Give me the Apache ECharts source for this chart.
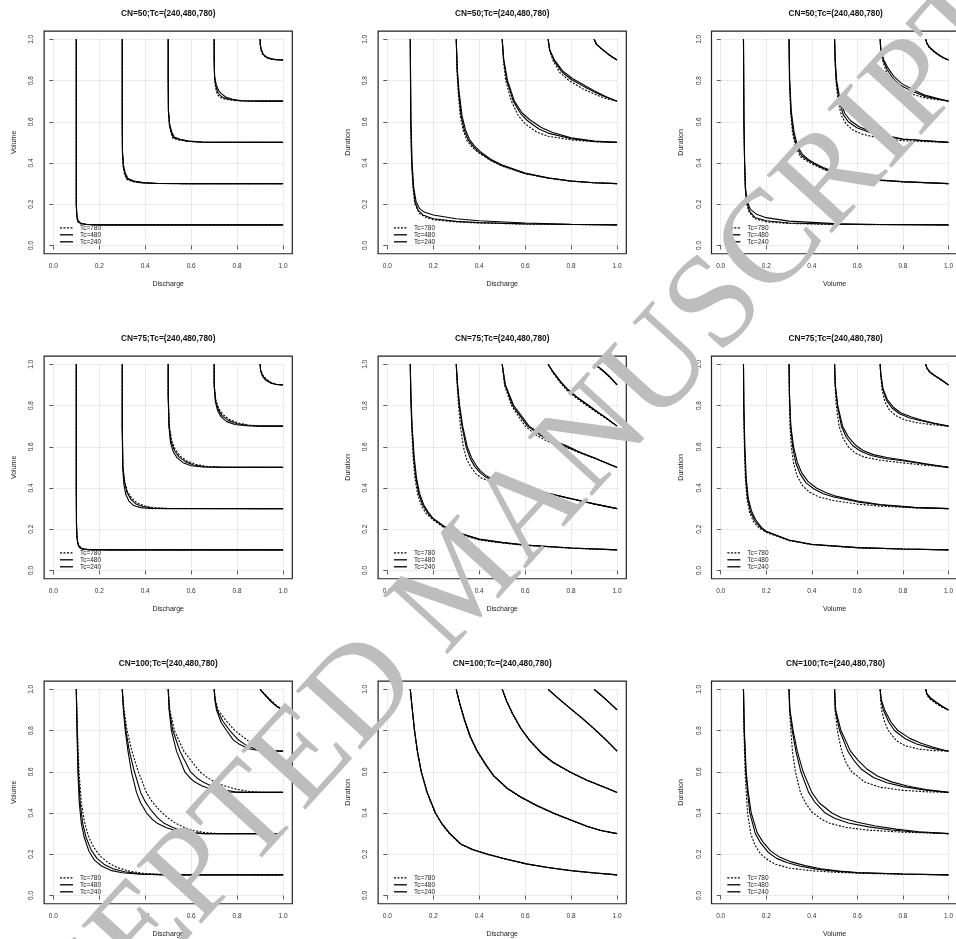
<!DOCTYPE html>
<html><head><meta charset="utf-8">
<script src="https://cdn.jsdelivr.net/npm/echarts@6/dist/echarts.min.js"></script>
<style>html,body{margin:0;padding:0;background:#fff}#c{width:956px;height:939px}</style>
</head><body><div id="c"></div>
<script>
const tcNames = ['Tc=780','Tc=480','Tc=240'];
const tickLabels = ['0.0','0.2','0.4','0.6','0.8','1.0'];
const titleText = {50:'CN=50;Tc=(240,480,780)', 75:'CN=75;Tc=(240,480,780)', 100:'CN=100;Tc=(240,480,780)'};

// ---------- CN=50 ----------
const p50_QV_780 = [
 [[0.1,1],[0.1,0.3],[0.1,0.2],[0.102,0.14],[0.106,0.117],[0.115,0.106],[0.14,0.102],[0.2,0.1],[1,0.1]],
 [[0.3,1],[0.3,0.6],[0.301,0.45],[0.304,0.38],[0.31,0.345],[0.32,0.32],[0.345,0.31],[0.38,0.304],[0.45,0.301],[0.6,0.3],[1,0.3]],
 [[0.5,1],[0.5,0.8],[0.501,0.65],[0.505,0.58],[0.512,0.545],[0.52,0.52],[0.545,0.512],[0.58,0.505],[0.65,0.501],[0.8,0.5],[1,0.5]],
 [[0.7,1],[0.7,0.9],[0.702,0.8],[0.707,0.76],[0.713,0.735],[0.722,0.722],[0.735,0.713],[0.76,0.707],[0.8,0.702],[0.9,0.7],[1,0.7]],
 [[0.9,1],[0.901,0.97],[0.905,0.945],[0.911,0.927],[0.918,0.918],[0.927,0.911],[0.945,0.905],[0.97,0.901],[1,0.9]]
];
const p50_QV_480 = [
 [[0.1,1],[0.1,0.3],[0.1,0.2],[0.102,0.142],[0.107,0.118],[0.117,0.107],[0.142,0.102],[0.2,0.1],[1,0.1]],
 [[0.3,1],[0.3,0.6],[0.301,0.45],[0.305,0.385],[0.311,0.348],[0.322,0.322],[0.348,0.311],[0.385,0.305],[0.45,0.301],[0.6,0.3],[1,0.3]],
 [[0.5,1],[0.5,0.8],[0.501,0.65],[0.506,0.585],[0.514,0.548],[0.523,0.523],[0.548,0.514],[0.585,0.506],[0.65,0.501],[0.8,0.5],[1,0.5]],
 [[0.7,1],[0.7,0.9],[0.702,0.81],[0.708,0.77],[0.716,0.742],[0.727,0.727],[0.742,0.716],[0.77,0.708],[0.81,0.702],[0.9,0.7],[1,0.7]],
 [[0.9,1],[0.901,0.97],[0.905,0.946],[0.912,0.928],[0.919,0.919],[0.928,0.912],[0.946,0.905],[0.97,0.901],[1,0.9]]
];
const p50_QV_240 = [
 [[0.1,1],[0.1,0.3],[0.1,0.2],[0.103,0.145],[0.108,0.12],[0.12,0.108],[0.145,0.103],[0.2,0.1],[1,0.1]],
 [[0.3,1],[0.3,0.6],[0.301,0.46],[0.305,0.39],[0.313,0.352],[0.325,0.325],[0.352,0.313],[0.39,0.305],[0.46,0.301],[0.6,0.3],[1,0.3]],
 [[0.5,1],[0.5,0.8],[0.501,0.66],[0.506,0.59],[0.515,0.552],[0.526,0.526],[0.552,0.515],[0.59,0.506],[0.66,0.501],[0.8,0.5],[1,0.5]],
 [[0.7,1],[0.7,0.9],[0.702,0.82],[0.709,0.78],[0.72,0.75],[0.734,0.734],[0.75,0.72],[0.78,0.709],[0.82,0.702],[0.9,0.7],[1,0.7]],
 [[0.9,1],[0.901,0.97],[0.906,0.948],[0.913,0.93],[0.92,0.92],[0.93,0.913],[0.948,0.906],[0.97,0.901],[1,0.9]]
];
const p50_QD_780 = [
 [[0.1,1],[0.102,0.6],[0.106,0.4],[0.112,0.28],[0.12,0.2],[0.14,0.155],[0.17,0.135],[0.2,0.125],[0.3,0.114],[0.4,0.109],[0.6,0.104],[0.8,0.102],[1,0.1]],
 [[0.3,1],[0.303,0.85],[0.308,0.75],[0.317,0.63],[0.33,0.56],[0.346,0.51],[0.37,0.475],[0.4,0.448],[0.45,0.412],[0.5,0.385],[0.6,0.348],[0.7,0.326],[0.8,0.312],[0.9,0.304],[1,0.3]],
 [[0.5,1],[0.505,0.9],[0.515,0.8],[0.54,0.7],[0.57,0.63],[0.6,0.59],[0.65,0.55],[0.7,0.53],[0.8,0.512],[0.9,0.503],[1,0.5]],
 [[0.7,1],[0.705,0.95],[0.72,0.9],[0.75,0.84],[0.79,0.8],[0.85,0.76],[0.9,0.735],[0.95,0.713],[1,0.7]],
 [[0.9,1],[0.91,0.975],[0.93,0.955],[0.96,0.928],[0.98,0.912],[1,0.9]]
];
const p50_QD_480 = [
 [[0.1,1],[0.102,0.6],[0.106,0.4],[0.113,0.28],[0.121,0.21],[0.135,0.17],[0.155,0.148],[0.2,0.13],[0.3,0.117],[0.4,0.111],[0.6,0.105],[0.8,0.102],[1,0.1]],
 [[0.3,1],[0.304,0.85],[0.31,0.75],[0.321,0.63],[0.335,0.56],[0.352,0.512],[0.375,0.478],[0.4,0.452],[0.45,0.414],[0.5,0.387],[0.6,0.349],[0.7,0.327],[0.8,0.312],[0.9,0.304],[1,0.3]],
 [[0.5,1],[0.506,0.9],[0.52,0.8],[0.548,0.7],[0.58,0.64],[0.61,0.605],[0.66,0.565],[0.7,0.545],[0.8,0.518],[0.9,0.505],[1,0.5]],
 [[0.7,1],[0.706,0.95],[0.724,0.9],[0.757,0.845],[0.8,0.805],[0.86,0.768],[0.9,0.745],[0.95,0.72],[1,0.7]],
 [[0.9,1],[0.91,0.976],[0.93,0.956],[0.96,0.929],[0.98,0.913],[1,0.9]]
];
const p50_QD_240 = [
 [[0.1,1],[0.103,0.6],[0.108,0.4],[0.115,0.28],[0.125,0.215],[0.14,0.18],[0.16,0.162],[0.2,0.148],[0.3,0.13],[0.4,0.12],[0.6,0.109],[0.8,0.103],[1,0.1]],
 [[0.3,1],[0.305,0.85],[0.312,0.75],[0.325,0.63],[0.34,0.562],[0.357,0.515],[0.38,0.482],[0.405,0.455],[0.45,0.418],[0.5,0.39],[0.6,0.351],[0.7,0.328],[0.8,0.313],[0.9,0.304],[1,0.3]],
 [[0.5,1],[0.507,0.9],[0.523,0.8],[0.553,0.7],[0.585,0.645],[0.62,0.61],[0.67,0.572],[0.72,0.548],[0.8,0.522],[0.9,0.506],[1,0.5]],
 [[0.7,1],[0.707,0.95],[0.727,0.9],[0.762,0.848],[0.805,0.81],[0.865,0.772],[0.9,0.75],[0.95,0.723],[1,0.7]],
 [[0.9,1],[0.91,0.977],[0.93,0.957],[0.96,0.93],[0.98,0.914],[1,0.9]]
];
const p50_VD_780 = [
 [[0.1,1],[0.102,0.6],[0.105,0.4],[0.108,0.28],[0.112,0.21],[0.125,0.16],[0.15,0.13],[0.2,0.115],[0.3,0.107],[0.5,0.102],[1,0.1]],
 [[0.3,1],[0.302,0.8],[0.307,0.65],[0.315,0.55],[0.328,0.48],[0.35,0.43],[0.375,0.412],[0.4,0.396],[0.45,0.37],[0.5,0.35],[0.6,0.328],[0.7,0.315],[0.8,0.308],[1,0.3]],
 [[0.5,1],[0.502,0.9],[0.506,0.8],[0.515,0.7],[0.53,0.63],[0.55,0.59],[0.58,0.56],[0.62,0.54],[0.7,0.52],[0.8,0.508],[1,0.5]],
 [[0.7,1],[0.702,0.95],[0.71,0.9],[0.725,0.85],[0.74,0.81],[0.77,0.77],[0.82,0.74],[0.9,0.715],[1,0.7]],
 [[0.9,1],[0.905,0.98],[0.915,0.96],[0.935,0.94],[0.96,0.92],[0.98,0.908],[1,0.9]]
];
const p50_VD_480 = [
 [[0.1,1],[0.102,0.6],[0.105,0.4],[0.108,0.28],[0.113,0.215],[0.127,0.165],[0.15,0.136],[0.2,0.12],[0.3,0.109],[0.5,0.103],[1,0.1]],
 [[0.3,1],[0.302,0.8],[0.308,0.65],[0.318,0.55],[0.333,0.48],[0.355,0.435],[0.38,0.415],[0.4,0.402],[0.45,0.373],[0.5,0.353],[0.6,0.33],[0.7,0.317],[0.8,0.309],[1,0.3]],
 [[0.5,1],[0.502,0.9],[0.507,0.8],[0.52,0.7],[0.538,0.635],[0.56,0.6],[0.6,0.57],[0.65,0.55],[0.7,0.535],[0.8,0.515],[1,0.5]],
 [[0.7,1],[0.703,0.95],[0.713,0.9],[0.73,0.855],[0.753,0.815],[0.785,0.78],[0.835,0.75],[0.9,0.722],[1,0.7]],
 [[0.9,1],[0.905,0.981],[0.916,0.961],[0.936,0.941],[0.961,0.921],[0.981,0.908],[1,0.9]]
];
const p50_VD_240 = [
 [[0.1,1],[0.102,0.6],[0.105,0.4],[0.109,0.28],[0.115,0.22],[0.13,0.175],[0.16,0.15],[0.2,0.135],[0.3,0.118],[0.5,0.106],[0.7,0.102],[1,0.1]],
 [[0.3,1],[0.303,0.8],[0.31,0.65],[0.322,0.55],[0.338,0.48],[0.36,0.44],[0.385,0.417],[0.41,0.4],[0.45,0.378],[0.5,0.357],[0.6,0.333],[0.7,0.318],[0.8,0.31],[1,0.3]],
 [[0.5,1],[0.503,0.9],[0.509,0.8],[0.525,0.7],[0.545,0.64],[0.57,0.605],[0.61,0.575],[0.66,0.553],[0.72,0.534],[0.8,0.516],[1,0.5]],
 [[0.7,1],[0.703,0.95],[0.716,0.9],[0.735,0.86],[0.76,0.82],[0.795,0.785],[0.845,0.755],[0.9,0.728],[1,0.7]],
 [[0.9,1],[0.905,0.982],[0.917,0.962],[0.937,0.942],[0.962,0.922],[0.982,0.909],[1,0.9]]
];

// ---------- CN=75 ----------
const p75_QV_780 = [
 [[0.1,1],[0.1,0.4],[0.101,0.22],[0.103,0.165],[0.107,0.135],[0.115,0.116],[0.13,0.106],[0.16,0.101],[0.25,0.1],[1,0.1]],
 [[0.3,1],[0.3,0.7],[0.303,0.5],[0.311,0.43],[0.322,0.385],[0.342,0.35],[0.365,0.327],[0.4,0.312],[0.44,0.304],[0.5,0.301],[1,0.3]],
 [[0.5,1],[0.5,0.85],[0.505,0.7],[0.515,0.63],[0.53,0.588],[0.552,0.555],[0.58,0.532],[0.62,0.515],[0.67,0.504],[0.75,0.5],[1,0.5]],
 [[0.7,1],[0.7,0.9],[0.707,0.83],[0.72,0.785],[0.74,0.755],[0.768,0.732],[0.805,0.715],[0.86,0.704],[0.92,0.7],[1,0.7]],
 [[0.9,1],[0.902,0.974],[0.911,0.949],[0.926,0.929],[0.949,0.911],[0.974,0.902],[1,0.9]]
];
const p75_QV_480 = [
 [[0.1,1],[0.1,0.4],[0.101,0.22],[0.103,0.162],[0.107,0.132],[0.114,0.114],[0.127,0.105],[0.155,0.101],[0.25,0.1],[1,0.1]],
 [[0.3,1],[0.3,0.7],[0.303,0.5],[0.31,0.43],[0.32,0.38],[0.338,0.345],[0.36,0.322],[0.39,0.31],[0.43,0.303],[0.5,0.301],[1,0.3]],
 [[0.5,1],[0.5,0.85],[0.504,0.7],[0.513,0.625],[0.527,0.582],[0.548,0.55],[0.575,0.528],[0.61,0.512],[0.66,0.503],[0.75,0.5],[1,0.5]],
 [[0.7,1],[0.7,0.9],[0.706,0.825],[0.718,0.78],[0.735,0.75],[0.762,0.728],[0.8,0.712],[0.85,0.703],[0.9,0.7],[1,0.7]],
 [[0.9,1],[0.902,0.972],[0.91,0.947],[0.924,0.927],[0.947,0.91],[0.972,0.902],[1,0.9]]
];
const p75_QV_240 = [
 [[0.1,1],[0.1,0.4],[0.101,0.22],[0.103,0.16],[0.106,0.13],[0.113,0.112],[0.125,0.104],[0.15,0.101],[0.25,0.1],[1,0.1]],
 [[0.3,1],[0.3,0.7],[0.302,0.5],[0.307,0.42],[0.315,0.37],[0.33,0.335],[0.35,0.315],[0.38,0.305],[0.42,0.301],[0.5,0.3],[1,0.3]],
 [[0.5,1],[0.5,0.85],[0.503,0.7],[0.51,0.62],[0.522,0.575],[0.54,0.545],[0.565,0.523],[0.6,0.508],[0.65,0.502],[0.75,0.5],[1,0.5]],
 [[0.7,1],[0.7,0.9],[0.705,0.82],[0.715,0.775],[0.73,0.745],[0.755,0.722],[0.79,0.708],[0.84,0.702],[0.9,0.7],[1,0.7]],
 [[0.9,1],[0.902,0.97],[0.909,0.945],[0.922,0.925],[0.945,0.909],[0.97,0.902],[1,0.9]]
];
const p75_QD_780 = [
 [[0.1,1],[0.102,0.85],[0.106,0.7],[0.112,0.55],[0.12,0.45],[0.132,0.37],[0.15,0.31],[0.17,0.275],[0.2,0.245],[0.25,0.205],[0.3,0.18],[0.4,0.148],[0.5,0.133],[0.6,0.122],[0.8,0.108],[1,0.1]],
 [[0.3,1],[0.304,0.9],[0.31,0.8],[0.318,0.7],[0.331,0.6],[0.345,0.54],[0.365,0.5],[0.385,0.47],[0.41,0.448],[0.45,0.432],[0.5,0.42],[0.6,0.396],[0.7,0.372],[0.8,0.347],[0.9,0.322],[1,0.3]],
 [[0.5,1],[0.51,0.9],[0.54,0.8],[0.6,0.7],[0.65,0.655],[0.7,0.625],[0.77,0.6],[0.85,0.565],[0.9,0.545],[1,0.5]],
 [[0.7,1],[0.72,0.96],[0.75,0.915],[0.78,0.875],[0.82,0.838],[0.86,0.806],[0.9,0.775],[0.95,0.738],[1,0.7]],
 [[0.9,1],[0.92,0.984],[0.942,0.963],[0.97,0.934],[1,0.9]]
];
const p75_QD_480 = [
 [[0.1,1],[0.102,0.85],[0.107,0.7],[0.115,0.55],[0.124,0.45],[0.137,0.37],[0.155,0.315],[0.175,0.28],[0.2,0.25],[0.25,0.21],[0.3,0.184],[0.4,0.151],[0.5,0.135],[0.6,0.123],[0.8,0.109],[1,0.1]],
 [[0.3,1],[0.305,0.9],[0.313,0.8],[0.325,0.7],[0.343,0.6],[0.36,0.545],[0.38,0.505],[0.4,0.478],[0.425,0.455],[0.46,0.437],[0.5,0.425],[0.6,0.4],[0.7,0.374],[0.8,0.348],[0.9,0.323],[1,0.3]],
 [[0.5,1],[0.512,0.9],[0.545,0.8],[0.61,0.7],[0.66,0.66],[0.71,0.63],[0.775,0.603],[0.85,0.567],[0.9,0.546],[1,0.5]],
 [[0.7,1],[0.721,0.962],[0.752,0.917],[0.783,0.878],[0.823,0.841],[0.863,0.809],[0.903,0.777],[0.952,0.739],[1,0.7]],
 [[0.9,1],[0.921,0.985],[0.943,0.964],[0.971,0.935],[1,0.9]]
];
const p75_QD_240 = [
 [[0.1,1],[0.103,0.85],[0.108,0.7],[0.117,0.55],[0.127,0.45],[0.14,0.375],[0.158,0.32],[0.178,0.283],[0.2,0.252],[0.25,0.213],[0.3,0.187],[0.4,0.153],[0.5,0.137],[0.6,0.124],[0.8,0.109],[1,0.1]],
 [[0.3,1],[0.306,0.9],[0.315,0.8],[0.328,0.7],[0.348,0.6],[0.366,0.548],[0.386,0.51],[0.405,0.483],[0.43,0.46],[0.465,0.44],[0.5,0.428],[0.6,0.402],[0.7,0.375],[0.8,0.349],[0.9,0.323],[1,0.3]],
 [[0.5,1],[0.514,0.9],[0.55,0.8],[0.617,0.7],[0.667,0.663],[0.715,0.633],[0.78,0.605],[0.85,0.568],[0.9,0.547],[1,0.5]],
 [[0.7,1],[0.722,0.963],[0.753,0.918],[0.785,0.879],[0.825,0.842],[0.865,0.81],[0.905,0.778],[0.953,0.74],[1,0.7]],
 [[0.9,1],[0.922,0.985],[0.944,0.965],[0.972,0.936],[1,0.9]]
];
const p75_VD_780 = [
 [[0.1,1],[0.101,0.8],[0.104,0.6],[0.108,0.45],[0.115,0.35],[0.127,0.28],[0.145,0.235],[0.17,0.205],[0.2,0.185],[0.3,0.145],[0.4,0.125],[0.6,0.11],[0.8,0.104],[1,0.1]],
 [[0.3,1],[0.301,0.85],[0.304,0.7],[0.31,0.6],[0.32,0.52],[0.335,0.46],[0.36,0.41],[0.39,0.38],[0.43,0.357],[0.5,0.338],[0.6,0.322],[0.7,0.312],[0.85,0.304],[1,0.3]],
 [[0.5,1],[0.502,0.9],[0.507,0.8],[0.52,0.7],[0.538,0.64],[0.56,0.6],[0.59,0.57],[0.63,0.55],[0.7,0.535],[0.8,0.522],[0.9,0.51],[1,0.5]],
 [[0.7,1],[0.702,0.95],[0.708,0.88],[0.72,0.82],[0.74,0.78],[0.77,0.75],[0.81,0.73],[0.86,0.717],[0.93,0.707],[1,0.7]],
 [[0.9,1],[0.905,0.98],[0.918,0.96],[0.94,0.943],[0.965,0.925],[0.985,0.91],[1,0.9]]
];
const p75_VD_480 = [
 [[0.1,1],[0.101,0.8],[0.105,0.6],[0.11,0.45],[0.118,0.35],[0.131,0.285],[0.15,0.24],[0.175,0.208],[0.2,0.188],[0.3,0.147],[0.4,0.126],[0.6,0.111],[0.8,0.104],[1,0.1]],
 [[0.3,1],[0.302,0.85],[0.307,0.7],[0.316,0.6],[0.33,0.52],[0.348,0.47],[0.375,0.425],[0.41,0.395],[0.45,0.372],[0.5,0.355],[0.6,0.333],[0.7,0.318],[0.85,0.305],[1,0.3]],
 [[0.5,1],[0.503,0.9],[0.512,0.8],[0.53,0.7],[0.552,0.645],[0.58,0.605],[0.615,0.578],[0.66,0.558],[0.72,0.543],[0.8,0.532],[0.9,0.515],[1,0.5]],
 [[0.7,1],[0.703,0.95],[0.711,0.88],[0.728,0.825],[0.752,0.788],[0.785,0.76],[0.83,0.74],[0.88,0.726],[0.94,0.712],[1,0.7]],
 [[0.9,1],[0.905,0.981],[0.919,0.961],[0.941,0.944],[0.966,0.926],[0.985,0.911],[1,0.9]]
];
const p75_VD_240 = [
 [[0.1,1],[0.102,0.8],[0.106,0.6],[0.112,0.45],[0.121,0.35],[0.135,0.29],[0.154,0.245],[0.178,0.21],[0.2,0.19],[0.3,0.148],[0.4,0.127],[0.6,0.111],[0.8,0.104],[1,0.1]],
 [[0.3,1],[0.302,0.85],[0.308,0.7],[0.32,0.6],[0.336,0.525],[0.355,0.475],[0.383,0.432],[0.42,0.4],[0.46,0.378],[0.5,0.362],[0.6,0.337],[0.7,0.32],[0.85,0.306],[1,0.3]],
 [[0.5,1],[0.503,0.9],[0.514,0.8],[0.535,0.7],[0.56,0.648],[0.59,0.61],[0.625,0.582],[0.67,0.562],[0.73,0.548],[0.8,0.536],[0.9,0.518],[1,0.5]],
 [[0.7,1],[0.703,0.95],[0.713,0.88],[0.732,0.828],[0.758,0.792],[0.792,0.764],[0.838,0.744],[0.885,0.729],[0.94,0.714],[1,0.7]],
 [[0.9,1],[0.906,0.981],[0.92,0.962],[0.942,0.945],[0.967,0.927],[0.986,0.912],[1,0.9]]
];

// ---------- CN=100 ----------
const p100_QV_780 = [
 [[0.1,1],[0.105,0.8],[0.112,0.6],[0.122,0.45],[0.135,0.36],[0.152,0.29],[0.175,0.235],[0.205,0.19],[0.24,0.158],[0.28,0.135],[0.33,0.118],[0.4,0.106],[0.5,0.101],[1,0.1]],
 [[0.3,1],[0.308,0.9],[0.321,0.8],[0.342,0.7],[0.37,0.6],[0.405,0.5],[0.43,0.455],[0.465,0.41],[0.5,0.375],[0.53,0.352],[0.57,0.33],[0.61,0.315],[0.66,0.305],[0.72,0.3],[1,0.3]],
 [[0.5,1],[0.507,0.9],[0.527,0.8],[0.568,0.7],[0.638,0.6],[0.67,0.572],[0.703,0.55],[0.75,0.53],[0.8,0.515],[0.85,0.505],[0.9,0.501],[1,0.5]],
 [[0.7,1],[0.705,0.95],[0.717,0.9],[0.75,0.85],[0.79,0.8],[0.848,0.75],[0.88,0.73],[0.92,0.712],[0.96,0.703],[1,0.7]],
 [[0.9,1],[0.92,0.977],[0.948,0.946],[0.975,0.918],[1,0.9]]
];
const p100_QV_480 = [
 [[0.1,1],[0.104,0.8],[0.109,0.6],[0.117,0.45],[0.128,0.35],[0.143,0.28],[0.165,0.22],[0.19,0.18],[0.22,0.152],[0.26,0.13],[0.31,0.115],[0.38,0.105],[0.5,0.1],[1,0.1]],
 [[0.3,1],[0.306,0.9],[0.316,0.8],[0.331,0.7],[0.353,0.6],[0.38,0.5],[0.4,0.455],[0.428,0.41],[0.455,0.375],[0.48,0.352],[0.52,0.33],[0.56,0.315],[0.6,0.306],[0.66,0.3],[1,0.3]],
 [[0.5,1],[0.505,0.9],[0.52,0.8],[0.551,0.7],[0.597,0.6],[0.625,0.57],[0.652,0.55],[0.69,0.53],[0.74,0.513],[0.79,0.503],[0.84,0.5],[1,0.5]],
 [[0.7,1],[0.704,0.95],[0.713,0.9],[0.738,0.845],[0.768,0.8],[0.805,0.755],[0.84,0.728],[0.88,0.71],[0.93,0.701],[1,0.7]],
 [[0.9,1],[0.919,0.976],[0.946,0.944],[0.973,0.917],[1,0.9]]
];
const p100_QV_240 = [
 [[0.1,1],[0.103,0.8],[0.107,0.6],[0.113,0.45],[0.122,0.35],[0.135,0.28],[0.155,0.215],[0.18,0.17],[0.21,0.143],[0.25,0.122],[0.3,0.11],[0.38,0.103],[0.5,0.1],[1,0.1]],
 [[0.3,1],[0.305,0.9],[0.313,0.8],[0.325,0.7],[0.34,0.6],[0.362,0.5],[0.38,0.45],[0.406,0.4],[0.43,0.37],[0.45,0.352],[0.49,0.33],[0.53,0.315],[0.58,0.305],[0.65,0.3],[1,0.3]],
 [[0.5,1],[0.504,0.9],[0.514,0.8],[0.536,0.7],[0.572,0.6],[0.595,0.57],[0.616,0.55],[0.65,0.53],[0.7,0.512],[0.75,0.503],[0.8,0.5],[1,0.5]],
 [[0.7,1],[0.703,0.95],[0.71,0.9],[0.73,0.84],[0.754,0.8],[0.783,0.755],[0.81,0.733],[0.85,0.712],[0.9,0.702],[1,0.7]],
 [[0.9,1],[0.918,0.975],[0.945,0.943],[0.972,0.916],[1,0.9]]
];
const p100_QD_780 = [
 [[0.1,1],[0.109,0.9],[0.118,0.8],[0.13,0.7],[0.147,0.6],[0.172,0.5],[0.208,0.4],[0.235,0.35],[0.27,0.3],[0.317,0.25],[0.37,0.222],[0.433,0.2],[0.5,0.18],[0.608,0.152],[0.7,0.135],[0.8,0.12],[0.9,0.109],[1,0.1]],
 [[0.3,1],[0.315,0.93],[0.335,0.85],[0.36,0.77],[0.39,0.7],[0.43,0.63],[0.462,0.58],[0.52,0.52],[0.578,0.478],[0.65,0.435],[0.724,0.398],[0.8,0.365],[0.87,0.335],[0.93,0.315],[1,0.3]],
 [[0.5,1],[0.52,0.94],[0.545,0.88],[0.58,0.81],[0.62,0.75],[0.67,0.69],[0.72,0.645],[0.8,0.595],[0.87,0.558],[0.94,0.527],[1,0.5]],
 [[0.7,1],[0.74,0.96],[0.8,0.903],[0.85,0.857],[0.9,0.808],[0.95,0.756],[1,0.7]],
 [[0.9,1],[0.925,0.976],[0.95,0.951],[0.975,0.926],[1,0.9]]
];
const p100_QD_480 = [
 [[0.1,1],[0.109,0.9],[0.118,0.8],[0.131,0.7],[0.148,0.6],[0.173,0.5],[0.209,0.4],[0.236,0.35],[0.272,0.3],[0.319,0.25],[0.372,0.222],[0.435,0.2],[0.5,0.181],[0.61,0.152],[0.7,0.136],[0.8,0.12],[0.9,0.109],[1,0.1]],
 [[0.3,1],[0.315,0.93],[0.336,0.85],[0.361,0.77],[0.391,0.7],[0.431,0.63],[0.463,0.58],[0.521,0.52],[0.579,0.478],[0.651,0.435],[0.725,0.398],[0.8,0.365],[0.87,0.335],[0.93,0.315],[1,0.3]],
 [[0.5,1],[0.52,0.94],[0.546,0.88],[0.581,0.81],[0.621,0.75],[0.671,0.69],[0.721,0.645],[0.8,0.596],[0.87,0.558],[0.94,0.527],[1,0.5]],
 [[0.7,1],[0.74,0.96],[0.8,0.904],[0.85,0.858],[0.9,0.808],[0.95,0.756],[1,0.7]],
 [[0.9,1],[0.925,0.976],[0.95,0.952],[0.975,0.926],[1,0.9]]
];
const p100_QD_240 = [
 [[0.1,1],[0.109,0.9],[0.119,0.8],[0.131,0.7],[0.148,0.6],[0.174,0.5],[0.21,0.4],[0.237,0.35],[0.273,0.3],[0.32,0.25],[0.373,0.223],[0.436,0.201],[0.5,0.182],[0.61,0.153],[0.7,0.136],[0.8,0.121],[0.9,0.11],[1,0.1]],
 [[0.3,1],[0.316,0.93],[0.337,0.85],[0.362,0.77],[0.392,0.7],[0.432,0.63],[0.464,0.58],[0.522,0.52],[0.58,0.479],[0.652,0.436],[0.726,0.399],[0.8,0.366],[0.87,0.336],[0.93,0.315],[1,0.3]],
 [[0.5,1],[0.521,0.94],[0.546,0.88],[0.582,0.81],[0.622,0.75],[0.672,0.69],[0.722,0.646],[0.8,0.596],[0.87,0.559],[0.94,0.527],[1,0.5]],
 [[0.7,1],[0.741,0.96],[0.8,0.904],[0.85,0.858],[0.9,0.809],[0.95,0.757],[1,0.7]],
 [[0.9,1],[0.925,0.977],[0.95,0.952],[0.975,0.927],[1,0.9]]
];
const p100_VD_780 = [
 [[0.1,1],[0.102,0.8],[0.107,0.6],[0.112,0.5],[0.118,0.4],[0.132,0.3],[0.15,0.245],[0.176,0.2],[0.21,0.17],[0.241,0.152],[0.3,0.133],[0.4,0.12],[0.5,0.113],[0.6,0.108],[0.8,0.103],[1,0.1]],
 [[0.3,1],[0.302,0.9],[0.308,0.8],[0.315,0.7],[0.328,0.6],[0.35,0.5],[0.372,0.45],[0.4,0.405],[0.44,0.372],[0.473,0.352],[0.55,0.33],[0.65,0.317],[0.8,0.307],[1,0.3]],
 [[0.5,1],[0.502,0.9],[0.512,0.8],[0.531,0.7],[0.55,0.645],[0.575,0.6],[0.633,0.55],[0.7,0.525],[0.8,0.51],[0.9,0.503],[1,0.5]],
 [[0.7,1],[0.702,0.95],[0.706,0.9],[0.72,0.84],[0.736,0.8],[0.77,0.752],[0.81,0.726],[0.87,0.71],[0.93,0.703],[1,0.7]],
 [[0.9,1],[0.904,0.975],[0.918,0.953],[0.942,0.933],[0.97,0.914],[1,0.9]]
];
const p100_VD_480 = [
 [[0.1,1],[0.103,0.8],[0.11,0.6],[0.118,0.5],[0.128,0.4],[0.152,0.3],[0.175,0.255],[0.208,0.21],[0.245,0.18],[0.29,0.16],[0.35,0.142],[0.42,0.128],[0.5,0.118],[0.6,0.11],[0.8,0.104],[1,0.1]],
 [[0.3,1],[0.303,0.9],[0.314,0.8],[0.33,0.7],[0.352,0.6],[0.386,0.5],[0.415,0.45],[0.459,0.4],[0.5,0.375],[0.56,0.352],[0.65,0.333],[0.75,0.318],[0.85,0.308],[1,0.3]],
 [[0.5,1],[0.503,0.9],[0.522,0.8],[0.558,0.7],[0.588,0.65],[0.618,0.612],[0.67,0.572],[0.73,0.547],[0.8,0.528],[0.9,0.511],[1,0.5]],
 [[0.7,1],[0.704,0.95],[0.714,0.9],[0.738,0.84],[0.763,0.8],[0.81,0.76],[0.86,0.735],[0.92,0.716],[0.96,0.707],[1,0.7]],
 [[0.9,1],[0.905,0.977],[0.92,0.956],[0.945,0.936],[0.972,0.916],[1,0.9]]
];
const p100_VD_240 = [
 [[0.1,1],[0.104,0.8],[0.112,0.6],[0.121,0.5],[0.134,0.4],[0.16,0.305],[0.185,0.26],[0.22,0.215],[0.26,0.185],[0.31,0.163],[0.37,0.145],[0.44,0.13],[0.52,0.119],[0.6,0.111],[0.8,0.104],[1,0.1]],
 [[0.3,1],[0.304,0.9],[0.318,0.8],[0.336,0.7],[0.362,0.6],[0.4,0.5],[0.432,0.45],[0.488,0.4],[0.53,0.377],[0.6,0.355],[0.68,0.337],[0.77,0.322],[0.87,0.309],[1,0.3]],
 [[0.5,1],[0.505,0.9],[0.528,0.8],[0.57,0.7],[0.603,0.655],[0.64,0.615],[0.69,0.578],[0.75,0.551],[0.82,0.531],[0.9,0.514],[1,0.5]],
 [[0.7,1],[0.705,0.95],[0.72,0.9],[0.748,0.84],[0.778,0.8],[0.83,0.762],[0.88,0.738],[0.93,0.72],[0.97,0.708],[1,0.7]],
 [[0.9,1],[0.906,0.978],[0.922,0.958],[0.947,0.938],[0.973,0.918],[1,0.9]]
];

const panels = [
 {cn:50, xName:'Discharge', yName:'Volume',   tc:[p50_QV_780,p50_QV_480,p50_QV_240]},
 {cn:50, xName:'Discharge', yName:'Duration', tc:[p50_QD_780,p50_QD_480,p50_QD_240]},
 {cn:50, xName:'Volume',    yName:'Duration', tc:[p50_VD_780,p50_VD_480,p50_VD_240]},
 {cn:75, xName:'Discharge', yName:'Volume',   tc:[p75_QV_780,p75_QV_480,p75_QV_240]},
 {cn:75, xName:'Discharge', yName:'Duration', tc:[p75_QD_780,p75_QD_480,p75_QD_240]},
 {cn:75, xName:'Volume',    yName:'Duration', tc:[p75_VD_780,p75_VD_480,p75_VD_240]},
 {cn:100, xName:'Discharge', yName:'Volume',   tc:[p100_QV_780,p100_QV_480,p100_QV_240]},
 {cn:100, xName:'Discharge', yName:'Duration', tc:[p100_QD_780,p100_QD_480,p100_QD_240]},
 {cn:100, xName:'Volume',    yName:'Duration', tc:[p100_VD_780,p100_VD_480,p100_VD_240]}
];

// ---------- layout ----------
const COLX = [53.3, 387.3, 720.7], ROWY = [39.3, 364.3, 689.3];
const W = 229.8, H = 206.2;
const FONT = '"Liberation Sans", Arial, sans-serif';
const dashStyle = [2, 1.5];

const grid = [], xAxis = [], yAxis = [], series = [], title = [], legend = [], graphic = [];
panels.forEach((p, i) => {
  const c = i % 3, r = Math.floor(i / 3);
  grid.push({left: COLX[c], top: ROWY[r], width: W, height: H});
  const lbl = v => tickLabels[Math.round(v * 5)];
  xAxis.push({
    gridIndex: i, type: 'value', min: 0, max: 1, interval: 0.2, offset: 0.04 * H,
    axisLine: {show: false},
    axisTick: {show: true, length: 4, lineStyle: {color: '#333', width: 0.8}},
    axisLabel: {fontSize: 6.5, color: '#333', margin: 9, fontFamily: FONT, formatter: lbl},
    splitLine: {show: true, lineStyle: {color: '#cccccc', type: 'dotted', width: 0.8}},
    name: p.xName, nameLocation: 'middle', nameGap: 27,
    nameTextStyle: {fontSize: 7, color: '#222', fontFamily: FONT}
  });
  yAxis.push({
    gridIndex: i, type: 'value', min: 0, max: 1, interval: 0.2, offset: 0.04 * W,
    axisLine: {show: false},
    axisTick: {show: true, length: 4, lineStyle: {color: '#333', width: 0.8}},
    axisLabel: {fontSize: 6.5, color: '#333', margin: 9, rotate: 90, fontFamily: FONT, formatter: lbl},
    splitLine: {show: true, lineStyle: {color: '#cccccc', type: 'dotted', width: 0.8}},
    name: p.yName, nameLocation: 'middle', nameGap: 26.5,
    nameTextStyle: {fontSize: 7, color: '#222', fontFamily: FONT}
  });
  p.tc.forEach((curves, k) => {
    curves.forEach(curve => {
      series.push({
        type: 'line', name: tcNames[k], xAxisIndex: i, yAxisIndex: i,
        data: curve, symbol: 'none', showSymbol: false, silent: true, animation: false,
        itemStyle: {color: '#000'},
        lineStyle: {color: '#000', width: 1.1, type: k === 0 ? dashStyle : 'solid'},
        z: 3
      });
    });
  });
  title.push({
    text: titleText[p.cn], left: COLX[c] + W / 2, top: ROWY[r] - 30, textAlign: 'center', padding: 0,
    textStyle: {fontSize: 8.3, fontWeight: 'bold', color: '#111', fontFamily: FONT}
  });
  legend.push({
    left: COLX[c] + 6, top: ROWY[r] + 185, orient: 'vertical', padding: 0,
    itemWidth: 13, itemHeight: 6.7, itemGap: 0, selectedMode: false,
    data: tcNames,
    itemStyle: {opacity: 0, borderWidth: 0},
    lineStyle: {color: '#000', width: 1.3},
    textStyle: {fontSize: 6.5, color: '#222', fontFamily: FONT, lineHeight: 6.7, padding: [0, 0, 0, 2]}
  });
  graphic.push({
    type: 'rect', silent: true, z: 50,
    shape: {x: COLX[c] - 0.04 * W, y: ROWY[r] - 0.04 * H, width: 1.08 * W, height: 1.08 * H},
    style: {fill: 'none', stroke: '#222', lineWidth: 1.2}
  });
});

graphic.push({
  type: 'text', silent: true, z: 100, x: 465, y: 583, rotation: 47.6 * Math.PI / 180,
  style: {text: 'ACCEPTED MANUSCRIPT', font: '133px "Liberation Serif", serif', fill: '#bdbdbd',
          align: 'center', verticalAlign: 'middle'}
});

const chart = echarts.init(document.getElementById('c'), null, {renderer: 'canvas'});
chart.setOption({
  backgroundColor: '#ffffff', animation: false,
  title, legend, grid, xAxis, yAxis, series, graphic
});
</script>
</body></html>
